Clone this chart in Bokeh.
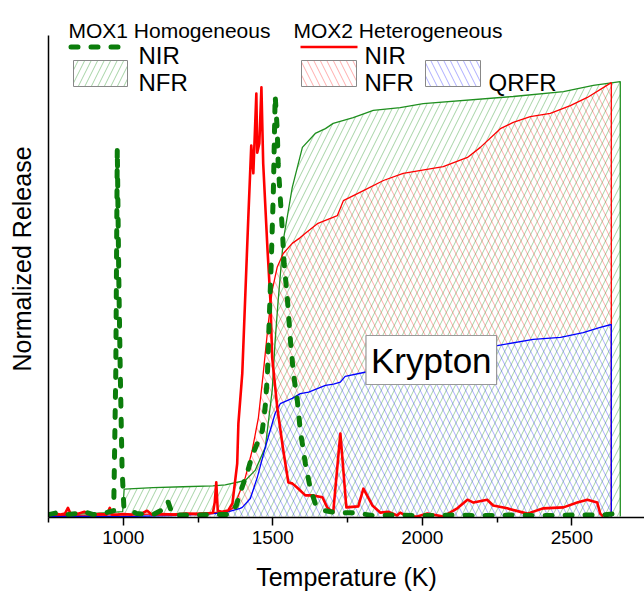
from bokeh.plotting import figure
from bokeh.models import Range1d, FixedTicker, Label
from bokeh.embed import file_html
from bokeh.resources import INLINE

FONT = "Liberation Sans"

# ---------------- data: (temperature K, normalized release) ----------------
# MOX1 homogeneous - normalized instantaneous release (NIR)
mox1_nir = [
    (750, 0.004), (780, 0.008), (810, 0.004), (840, 0.006), (870, 0.010),
    (900, 0.004), (930, 0.006), (955, 0.010), (968, 0.012), (975, 0.30),
    (980, 0.767), (985, 0.50), (990, 0.30), (996, 0.10), (1002, 0.020),
    (1045, 0.006), (1100, 0.004), (1125, 0.012), (1140, 0.030), (1150, 0.030),
    (1165, 0.004), (1190, 0.003), (1250, 0.003), (1300, 0.004), (1340, 0.004),
    (1358, 0.004), (1378, 0.023), (1391, 0.050), (1415, 0.092), (1431, 0.127),
    (1452, 0.158), (1465, 0.179), (1475, 0.231), (1482, 0.294), (1488, 0.408),
    (1495, 0.533), (1502, 0.679), (1508, 0.877), (1515, 0.804), (1518, 0.735),
    (1525, 0.665), (1532, 0.596), (1538, 0.527), (1548, 0.460), (1559, 0.367),
    (1569, 0.298), (1582, 0.242), (1592, 0.179), (1609, 0.110), (1625, 0.060),
    (1642, 0.027), (1669, 0.013), (1709, 0.008), (1769, 0.008), (1836, 0.002),
    (1900, 0.003), (2000, 0.002), (2100, 0.003), (2200, 0.002), (2300, 0.003),
    (2400, 0.002), (2500, 0.003), (2600, 0.003), (2650, 0.006), (2662, 0.010),
]

# MOX1 homogeneous - normalized fractional release (NFR)
mox1_nfr = [
    (750, 0.003), (850, 0.005), (950, 0.008), (998, 0.010), (1003, 0.057),
    (1100, 0.060), (1200, 0.062), (1300, 0.064), (1341, 0.066), (1408, 0.075),
    (1441, 0.096), (1475, 0.144), (1498, 0.2625), (1508, 0.367), (1518, 0.450),
    (1535, 0.575), (1565, 0.685), (1599, 0.769), (1642, 0.798), (1676, 0.808),
    (1702, 0.819), (1769, 0.831), (1836, 0.846), (1926, 0.852), (2003, 0.860),
    (2304, 0.875), (2472, 0.885), (2572, 0.898), (2662, 0.906), (2662, 0.0),
]

# MOX2 heterogeneous - NIR
mox2_nir = [
    (750, 0.004), (770, 0.006), (790, 0.004), (805, 0.006), (815, 0.018),
    (825, 0.004), (850, 0.006), (870, 0.010), (890, 0.003), (920, 0.005),
    (945, 0.004), (955, 0.018), (962, 0.004), (980, 0.004), (1000, 0.005),
    (1030, 0.004), (1060, 0.006), (1080, 0.012), (1095, 0.004), (1130, 0.005),
    (1170, 0.004), (1210, 0.006), (1250, 0.005), (1280, 0.006), (1300, 0.008),
    (1306, 0.030), (1311, 0.071), (1316, 0.012), (1330, 0.010), (1345, 0.012),
    (1351, 0.0125), (1365, 0.027), (1381, 0.110), (1385, 0.194), (1398, 0.298),
    (1408, 0.460), (1418, 0.620), (1428, 0.773), (1435, 0.715), (1445, 0.881),
    (1448, 0.758), (1455, 0.777), (1462, 0.894), (1468, 0.735), (1482, 0.560),
    (1492, 0.450), (1498, 0.331), (1515, 0.227), (1535, 0.138), (1552, 0.071),
    (1565, 0.069), (1582, 0.060), (1609, 0.044), (1632, 0.044), (1666, 0.040),
    (1682, 0.019), (1702, 0.008), (1726, 0.173), (1746, 0.019), (1786, 0.021),
    (1803, 0.058), (1833, 0.023), (1860, 0.008), (1886, 0.010), (1916, 0.002),
    (1926, 0.008), (1950, 0.000), (1983, 0.000), (2017, 0.006), (2070, 0.000),
    (2117, 0.017), (2151, 0.035), (2171, 0.029), (2217, 0.035), (2237, 0.023),
    (2284, 0.017), (2351, 0.006), (2405, 0.017), (2472, 0.019), (2518, 0.029),
    (2552, 0.035), (2585, 0.029), (2595, 0.006), (2605, 0.000),
]

# MOX2 heterogeneous - NFR
mox2_nfr = [
    (750, 0.002), (900, 0.003), (1000, 0.004), (1100, 0.005), (1200, 0.006),
    (1300, 0.008), (1348, 0.010), (1365, 0.017), (1375, 0.027), (1408, 0.081),
    (1431, 0.1375), (1452, 0.206), (1468, 0.298), (1485, 0.402), (1498, 0.471),
    (1515, 0.520), (1535, 0.548), (1565, 0.569), (1592, 0.581), (1609, 0.590),
    (1649, 0.610), (1676, 0.617), (1716, 0.627), (1736, 0.658), (1803, 0.679),
    (1870, 0.700), (1936, 0.715), (2070, 0.729), (2151, 0.748), (2194, 0.769),
    (2261, 0.808), (2304, 0.821), (2361, 0.833), (2428, 0.840), (2495, 0.856),
    (2552, 0.873), (2632, 0.904), (2632, 0.0),
]

# MOX2 heterogeneous - quasi-rate fractional release (QRFR)
mox2_qrfr = [
    (750, 0.0), (1000, 0.0), (1167, 0.002), (1301, 0.006), (1341, 0.008),
    (1391, 0.017), (1398, 0.019), (1425, 0.0375), (1448, 0.081), (1475, 0.144),
    (1508, 0.215), (1525, 0.235), (1565, 0.246), (1592, 0.256), (1620, 0.259),
    (1676, 0.273), (1703, 0.276), (1726, 0.280), (1742, 0.292), (1804, 0.300),
    (1900, 0.312), (2100, 0.337), (2251, 0.356), (2371, 0.369), (2462, 0.373),
    (2538, 0.383), (2595, 0.394), (2632, 0.400), (2632, 0.0),
]

x_ticks = [1000, 1500, 2000, 2500]
x_minor_ticks = [750, 1250, 1750, 2250, 2750]


def unzip(pairs):
    return [a for a, _ in pairs], [b for _, b in pairs]


# ---------------- figure geometry ----------------
W, H = 644, 597
FL, FR, FT, FB = 48, 644, 0, 517        # frame edges (pixels)
X0, X1 = 750, 2743
Y0, Y1 = -1 / 480, 516 / 480            # 480 px per unit, zero just above the axis
AXIS_TOP = 35                           # the y axis line stops here (pixels)


def dx(px):
    return X0 + (px - FL) * (X1 - X0) / (FR - FL)


def dy(py):
    return Y0 + (FB - py) * (Y1 - Y0) / (FB - FT)


p = figure(width=W, height=H, x_range=Range1d(X0, X1), y_range=Range1d(Y0, Y1),
           output_backend="svg", toolbar_location=None,
           min_border_left=FL, min_border_right=W - FR,
           min_border_top=FT, min_border_bottom=H - FB)
p.outline_line_color = None
p.grid.visible = False

# x axis
xa = p.xaxis[0]
xa.ticker = FixedTicker(ticks=x_ticks, minor_ticks=x_minor_ticks)
xa.axis_label = "Temperature (K)"
xa.axis_label_text_font = FONT
xa.axis_label_text_font_size = "25px"
xa.axis_label_text_font_style = "normal"
xa.axis_label_text_color = "black"
xa.axis_label_standoff = 16
xa.major_label_text_font = FONT
xa.major_label_text_font_size = "19px"
xa.major_label_text_color = "black"
xa.major_label_standoff = 5
xa.axis_line_width = 1.5
xa.axis_line_color = "black"
xa.major_tick_in = 0
xa.major_tick_out = 8
xa.major_tick_line_width = 1.5
xa.minor_tick_in = 0
xa.minor_tick_out = 5
xa.minor_tick_line_width = 1.5

# y axis: line and title only
ya = p.yaxis[0]
ya.ticker = FixedTicker(ticks=[])
ya.bounds = (Y0, dy(AXIS_TOP))
ya.major_tick_line_color = None
ya.minor_tick_line_color = None
ya.axis_label = "Normalized Release"
ya.axis_label_text_font = FONT
ya.axis_label_text_font_size = "25px"
ya.axis_label_text_font_style = "normal"
ya.axis_label_text_color = "black"
ya.axis_label_standoff = 13
ya.axis_line_width = 1.5
ya.axis_line_color = "black"

GREEN_LINE = "#1f8f1f"
GREEN_DASH = "#0b7d0b"
HATCH = dict(fill_alpha=0, hatch_scale=13, hatch_weight=1)
G_HATCH = dict(hatch_pattern="/", hatch_color="green", hatch_alpha=0.35)
R_HATCH = dict(hatch_pattern="\\", hatch_color="red", hatch_alpha=0.32)
B_HATCH = dict(hatch_pattern="\\", hatch_color="blue", hatch_alpha=0.32)

gx, gy = unzip(mox1_nfr)
rx, ry = unzip(mox2_nfr)
bx, by = unzip(mox2_qrfr)
g2x, g2y = unzip(mox1_nir)
r2x, r2y = unzip(mox2_nir)

# hatched areas: MOX1 NFR under its curve, MOX2 NFR between QRFR and NFR, QRFR under its curve
p.varea(x=gx, y1=0, y2=gy, **G_HATCH, **HATCH)
p.patch(rx[:-1] + bx[:-1][::-1], ry[:-1] + by[:-1][::-1], line_color=None,
        **R_HATCH, **HATCH)
p.varea(x=bx, y1=0, y2=by, **B_HATCH, **HATCH)

# cumulative curves
p.line(gx, gy, line_color=GREEN_LINE, line_width=1.3)
p.line(rx, ry, line_color="red", line_width=1.3)
p.line(bx, by, line_color="blue", line_width=1.3)

# instantaneous release curves
p.line(r2x, r2y, line_color="red", line_width=2.6, line_join="round")
p.line(g2x, g2y, line_color=GREEN_DASH, line_width=5, line_dash="7 13",
       line_cap="round", line_join="round")

# element label
p.add_layout(Label(x=2030, y=0.326, text="Krypton", text_font=FONT,
                   text_font_size="35px", text_align="center", text_baseline="middle",
                   text_color="black", background_fill_color="white",
                   border_line_color="#999999", border_line_width=1.2, padding=5))


# ---------------- legend ----------------
def legend_text(px, py, txt, size):
    p.add_layout(Label(x=dx(px), y=dy(py), text=txt, text_font=FONT,
                       text_font_size=size, text_align="left",
                       text_baseline="alphabetic", text_color="black"))


def legend_box(px0, px1, hatch):
    p.quad(left=dx(px0), right=dx(px1), top=dy(60), bottom=dy(86),
           line_color="#888888", line_width=1, **hatch, **HATCH)


legend_text(68, 30, "MOX1 Homogeneous", "21px")
legend_text(293, 30, "MOX2 Heterogeneous", "21px")

p.line([dx(70.5), dx(117.5)], [dy(46.5), dy(46.5)], line_color=GREEN_DASH,
       line_width=5, line_dash="7 13", line_cap="round")
legend_text(138, 55, "NIR", "24px")
legend_box(73, 127, G_HATCH)
legend_text(138, 82, "NFR", "24px")

p.line([dx(300), dx(357)], [dy(46.5), dy(46.5)], line_color="red", line_width=2.6)
legend_text(364, 55, "NIR", "24px")
legend_box(301, 356, R_HATCH)
legend_text(364, 82, "NFR", "24px")
legend_box(425, 480, B_HATCH)
legend_text(488, 82, "QRFR", "24px")

open("out.html", "w").write(file_html(p, INLINE))
